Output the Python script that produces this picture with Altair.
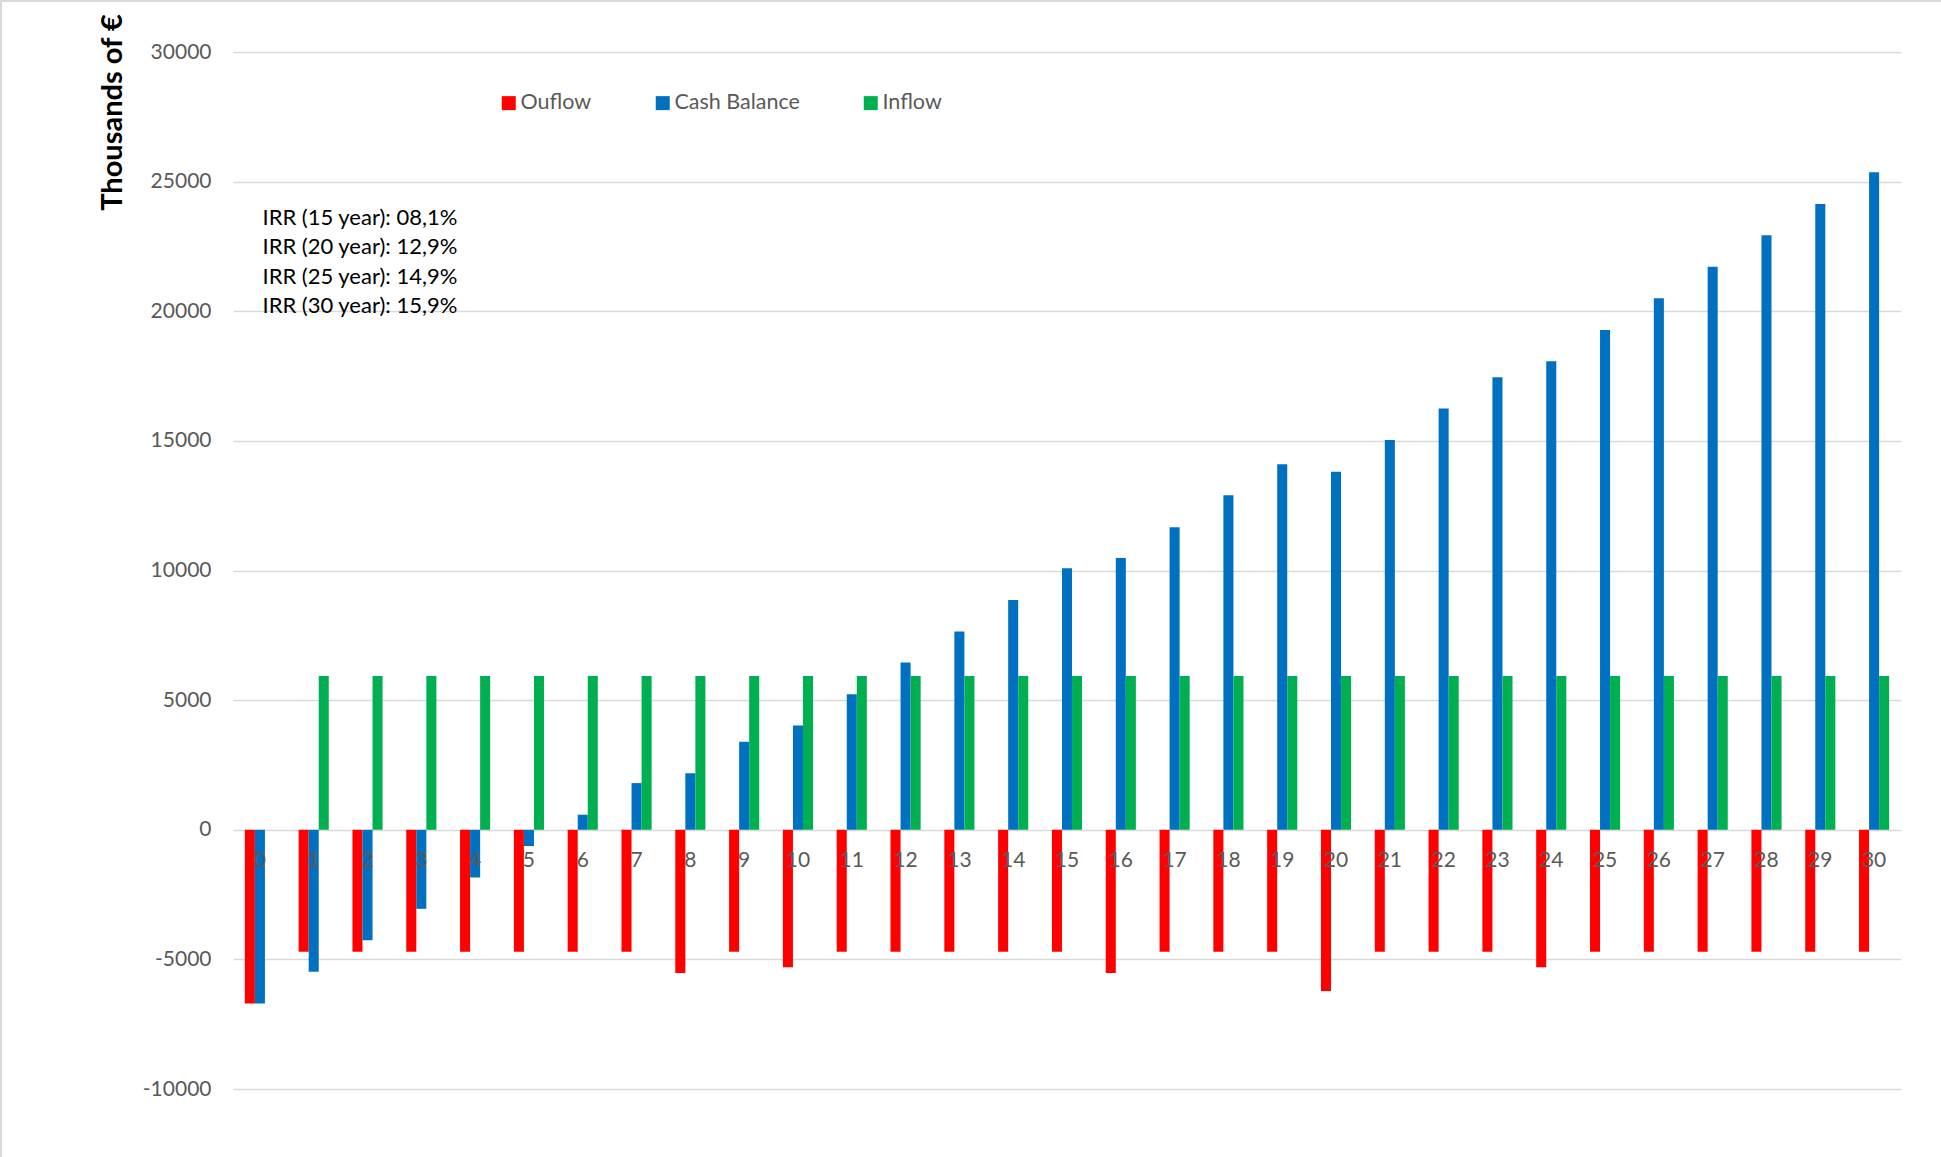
import altair as alt
import pandas as pd

# Cash-flow projection, thousands of euros, years 0-30
years = list(range(31))
outflow = [-6700, -4710, -4710, -4710, -4710, -4710, -4710, -4710, -5530, -4710,
           -5300, -4710, -4710, -4710, -4710, -4710, -5530, -4710, -4710, -4710,
           -6220, -4710, -4710, -4710, -5300, -4710, -4710, -4710, -4710, -4710,
           -4710]
cash_balance = [-6700, -5480, -4260, -3050, -1840, -630, 580, 1800, 2180, 3390,
                4020, 5230, 6450, 7650, 8860, 10090, 10480, 11670, 12900, 14100,
                13810, 15030, 16250, 17450, 18070, 19280, 20500, 21720, 22930, 24140,
                25360]
inflow = [0] + [5930] * 30

series_names = ["Ouflow", "Cash Balance", "Inflow"]
series_colors = ["#FF0000", "#0070C0", "#00B050"]
y_ticks = [-10000, -5000, 0, 5000, 10000, 15000, 20000, 25000, 30000]
irr_lines = ["IRR (15 year): 08,1%", "IRR (20 year): 12,9%",
             "IRR (25 year): 14,9%", "IRR (30 year): 15,9%"]

rows = []
for name, vals in zip(series_names, [outflow, cash_balance, inflow]):
    for yr, v in zip(years, vals):
        rows.append({"year": yr, "series": name, "value": v})
df = pd.DataFrame(rows)

FONT = "Lato"
GREY = "#595959"

x_scale = alt.Scale(paddingInner=0.44, paddingOuter=0.22)

bars = alt.Chart(df).mark_bar().encode(
    x=alt.X("year:O", scale=x_scale, axis=None),
    xOffset=alt.XOffset("series:N", sort=series_names,
                        scale=alt.Scale(domain=series_names, paddingInner=0, paddingOuter=0)),
    y=alt.Y("value:Q",
            scale=alt.Scale(domain=[-10000, 30000], nice=False),
            axis=alt.Axis(values=y_ticks, title="Thousands of €",
                          labelExpr="'' + datum.value",
                          titleX=-121, titleY=60, titleAngle=270,
                          titleAlign="center", titleBaseline="middle",
                          titleFont=FONT, titleFontSize=29, titleFontWeight="bold",
                          titleColor="#000000")),
    color=alt.Color("series:N",
                    scale=alt.Scale(domain=series_names, range=series_colors),
                    legend=alt.Legend(title=None, orient="none", direction="horizontal",
                                      legendX=265, legendY=40, symbolType="square",
                                      symbolSize=196, symbolStrokeWidth=0,
                                      labelFont=FONT, labelFontSize=21.5,
                                      labelColor=GREY, labelOffset=1,
                                      columnPadding=60, padding=0)),
)

year_labels = alt.Chart(pd.DataFrame({"year": years})).mark_text(
    font=FONT, fontSize=21, color=GREY, align="center", baseline="middle", dy=31
).encode(
    x=alt.X("year:O", scale=x_scale, axis=None),
    y=alt.datum(0),
    text=alt.Text("year:O"),
)

irr_text = alt.Chart(pd.DataFrame({"t": ["\n".join(irr_lines)]})).mark_text(
    font=FONT, fontSize=22, color="#000000", align="left", baseline="middle",
    lineBreak="\n", lineHeight=29.3
).encode(
    x=alt.value(29.5),
    y=alt.value(166),
    text="t:N",
)

# Outer frame of the chart area (top and left edges)
frame_top = alt.Chart(pd.DataFrame({"a": [0]})).mark_rule(
    color="#d9d9d9", strokeWidth=2
).encode(x=alt.value(-233), x2=alt.value(1708), y=alt.value(-51))
frame_left = alt.Chart(pd.DataFrame({"a": [0]})).mark_rule(
    color="#d9d9d9", strokeWidth=2
).encode(x=alt.value(-232), y=alt.value(-52), y2=alt.value(1105))

chart = alt.layer(bars, year_labels, irr_text, frame_top, frame_left).properties(
    width=1668,
    height=1037,
    autosize=alt.AutoSizeParams(type="none"),
    padding={"left": 233, "top": 52, "right": 40, "bottom": 68},
    background="#ffffff",
).configure_view(
    stroke=None
).configure_axis(
    grid=True, gridColor="#d9d9d9", gridWidth=1.5,
    ticks=False, domain=False,
    labelFont=FONT, labelFontSize=21, labelColor=GREY, labelPadding=22,
)

chart.save("out.html", embed_options={"renderer": "svg", "actions": False})
